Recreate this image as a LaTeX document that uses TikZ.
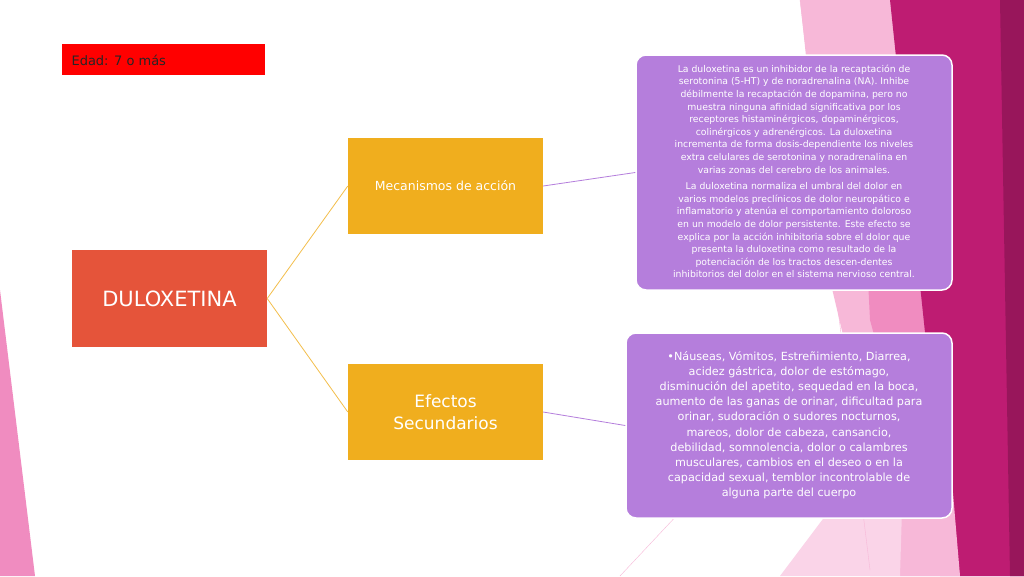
\documentclass[tikz,border=0pt]{standalone}
\usepackage{fontspec}
\setmainfont{DejaVu Sans}
\begin{document}
\begin{tikzpicture}[x=1pt,y=-1pt,
  purp/.style={draw=white,line width=1.5pt,fill=purpbox,rounded corners=10pt,text=white,align=center,inner sep=3pt},
  orbox/.style={fill=orng,minimum width=195pt,minimum height=96pt,text=white,align=center},
  link/.style={line width=0.8pt}]
\definecolor{purpbox}{HTML}{B57EDC}
\definecolor{orng}{HTML}{F0AE1E}
\definecolor{redor}{HTML}{E5543A}
\definecolor{mag}{HTML}{BE1C72}
\definecolor{pk1}{HTML}{F08CC0}
\definecolor{pk2}{HTML}{F7B8D8}
\useasboundingbox (0,0) rectangle (1024,576);
\fill[white] (0,0) rectangle (1024,576);
% background decoration
\fill[pk2] (800,0) -- (905,0) -- (1024,330) -- (1024,576) -- (900,576) -- (830,280) -- cycle;
\fill[pk1] (860,120) -- (1024,0) -- (1024,576) -- (940,576) -- (870,320) -- cycle;
\fill[mag] (890,0) -- (1024,0) -- (1024,576) -- (960,576) -- (930,380) -- cycle;
\fill[mag!80!black] (1000,0) -- (1024,0) -- (1024,576) -- (1010,576) -- cycle;
\fill[pk2] (870,576) -- (940,340) -- (960,576) -- cycle;
\fill[pk1] (0,290) -- (35,576) -- (0,576) -- cycle;
\fill[pk2!60] (780,576) -- (905,410) -- (900,576) -- cycle;
\draw[pk2] (620,576) -- (860,320);
\draw[pk2] (800,0) -- (870,570);
% nodes
\node[fill=red,minimum width=203pt,minimum height=31pt,anchor=north west,inner sep=0pt] (edad) at (62,44) {};
\node[anchor=west,font=\fontsize{13}{15}\selectfont,text=black!85] (edadt) at (68,60) {Edad: 7 o más};
\node[fill=redor,minimum width=195pt,minimum height=97pt,text=white,font=\fontsize{21}{24}\selectfont] (dul) at (169.5,298.5) {DULOXETINA};
\node[orbox,font=\fontsize{12.5}{15}\selectfont] (mec) at (445.5,186) {Mecanismos de acción};
\node[orbox,font=\fontsize{17}{22}\selectfont] (efe) at (445.5,412) {Efectos\\Secundarios};
\node[purp,minimum width=316pt,minimum height=235pt,font=\fontsize{9.3}{12.6}\selectfont] (top) at (794,172.5) {\begin{tabular}{@{}c@{}}La duloxetina es un inhibidor de la recaptación de\\serotonina (5-HT) y de noradrenalina (NA). Inhibe\\débilmente la recaptación de dopamina, pero no\\muestra ninguna afinidad significativa por los\\receptores histaminérgicos, dopaminérgicos,\\colinérgicos y adrenérgicos. La duloxetina\\incrementa de forma dosis-dependiente los niveles\\extra celulares de serotonina y noradrenalina en\\varias zonas del cerebro de los animales.\\[4pt]La duloxetina normaliza el umbral del dolor en\\varios modelos preclínicos de dolor neuropático e\\inflamatorio y atenúa el comportamiento doloroso\\en un modelo de dolor persistente. Este efecto se\\explica por la acción inhibitoria sobre el dolor que\\presenta la duloxetina como resultado de la\\potenciación de los tractos descen-dentes\\inhibitorios del dolor en el sistema nervioso central.\end{tabular}};
\node[purp,minimum width=326pt,minimum height=185pt,font=\fontsize{11.2}{15.2}\selectfont] (bot) at (789,425.5) {\begin{tabular}{@{}c@{}}•Náuseas, Vómitos, Estreñimiento, Diarrea,\\acidez gástrica, dolor de estómago,\\disminución del apetito, sequedad en la boca,\\aumento de las ganas de orinar, dificultad para\\orinar, sudoración o sudores nocturnos,\\mareos, dolor de cabeza, cansancio,\\debilidad, somnolencia, dolor o calambres\\musculares, cambios en el deseo o en la\\capacidad sexual, temblor incontrolable de\\alguna parte del cuerpo\end{tabular}};
% connectors
\draw[link,orng!80] (dul.east) -- (mec.west);
\draw[link,orng!80] (dul.east) -- (efe.west);
\draw[link,purpbox] (mec.east) -- (top.west);
\draw[link,purpbox] (efe.east) -- (bot.west);
\end{tikzpicture}
\end{document}
